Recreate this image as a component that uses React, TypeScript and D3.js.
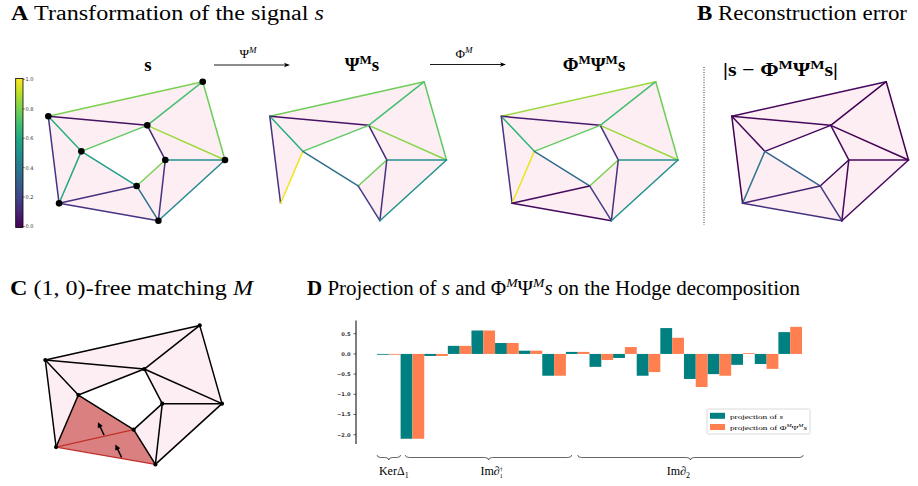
import React from 'react';
import * as d3 from 'd3';

// --- DATA ---
// node layout of the simplicial complex (graph units, N0..N8)
const nodeX = [0, 0.874, 0.56, 0.187, 0.662, 1, 0.5, 0.061, 0.623];
const nodeY = [0.249, 0, 0.314, 0.501, 0.563, 0.563, 0.75, 0.875, 1];

const edges: [number, number][] = [
  [0, 1], [0, 2], [0, 3], [0, 7], [1, 2], [1, 5], [2, 5], [2, 4], [2, 3],
  [3, 7], [3, 6], [4, 5], [4, 6], [4, 8], [6, 7], [6, 8], [7, 8], [5, 8],
];

const triangles: [number, number, number][] = [
  [0, 1, 2], [1, 2, 5], [2, 4, 5], [4, 5, 8], [4, 6, 8], [6, 7, 8], [3, 6, 7], [0, 3, 7], [0, 2, 3],
];

// edge signals (null = edge collapsed by the matching)
const signalS = [0.8, 0.05, 0.62, 0.15, 0.7, 0.78, 0.85, 0.12, 0.75, 0.6, 0.56, 0.5, 0.8, 0.15, 0.15, 0.37, 0.15, 0.47];
const signalPsi = [0.78, 0.05, 0.62, 0.15, 0.7, 0.75, 0.82, 0.12, 0.75, 0.98, 0.35, 0.5, 0.78, 0.15, null, 0.18, null, 0.5];
const signalPhiPsi = [0.85, 0.07, 0.65, 0.15, 0.7, 0.78, 0.85, 0.15, 0.76, 0.97, 0.35, 0.5, 0.8, 0.15, 0.03, 0.18, 0.03, 0.5];
const reconError = [0.02, 0.02, 0.02, 0.0, 0.0, 0.0, 0.0, 0.02, 0.02, 0.37, 0.32, 0.02, 0.02, 0.02, 0.1, 0.17, 0.14, 0.02];

// matching M: collapsed edges and triangles, arrows (edge, position along edge)
const matchedEdges = [14, 16];
const matchedTriangles = [5, 6];
const matchArrows = [{ edge: 14, t: 0.38 }, { edge: 16, t: 0.66 }];

// Hodge projections
const projS = [-0.02, -2.1, -0.05, 0.2, 0.58, 0.27, 0.08, -0.54, 0.05, -0.32, -0.1, -0.54, 0.64, -0.62, -0.5, -0.27, -0.25, 0.54];
const projPhiPsi = [-0.02, -2.1, -0.05, 0.2, 0.58, 0.27, 0.08, -0.54, 0.05, -0.15, 0.17, -0.45, 0.4, -0.82, -0.54, 0.02, -0.37, 0.67];
const yTicks = [0.5, 0, -0.5, -1, -1.5, -2];
const cbTicks = [0, 0.2, 0.4, 0.6, 0.8, 1];

// brace groups in bar-index units
const groups = [
  { key: 'ker', from: 0, to: 1 },
  { key: 'im1', from: 1.2, to: 8.25 },
  { key: 'im2', from: 8.5, to: 18.05 },
];

const TEAL = '#008080';
const CORAL = '#ff7f50';
const PINK = '#fdeef4';
const SERIF = '"Liberation Serif", "DejaVu Serif", serif';
const SANS = '"DejaVu Sans", sans-serif';

const viridis = d3.scaleSequential(d3.interpolateViridis).domain([0, 1]);

interface PanelProps {
  x0: number;
  y0: number;
  signal?: (number | null)[];
  nodes?: boolean;
  matching?: boolean;
}

function Complex({ x0, y0, signal, nodes, matching }: PanelProps) {
  const sx = d3.scaleLinear().domain([0, 1]).range([x0, x0 + 176.7]);
  const sy = d3.scaleLinear().domain([0, 1]).range([y0, y0 + 139]);
  const px = (i: number) => sx(nodeX[i]);
  const py = (i: number) => sy(nodeY[i]);
  const alive = (ti: number) => {
    if (!signal) return true;
    const [a, b, c] = triangles[ti];
    return [[a, b], [b, c], [a, c]].every(([u, v]) => {
      const ei = edges.findIndex(([p, q]) => (p === u && q === v) || (p === v && q === u));
      return ei < 0 || signal[ei] !== null;
    });
  };
  const tri = d3.line<number>().x(px).y(py);
  // arrow direction in panel C (up and slightly left)
  const ux = -0.43, uy = -0.9;
  return (
    <g>
      {triangles.map((t, i) =>
        alive(i) ? (
          <path
            key={'t' + i}
            d={tri([...t, t[0]]) || ''}
            fill={matching && matchedTriangles.includes(i) ? '#db8080' : PINK}
            stroke="none"
          />
        ) : null
      )}
      {edges.map(([a, b], i) => {
        if (signal && signal[i] === null) return null;
        const red = matching && matchedEdges.includes(i);
        const color = matching
          ? red ? '#c0302a' : '#000'
          : viridis(signal ? (signal[i] as number) : 0);
        return (
          <line key={'e' + i} x1={px(a)} y1={py(a)} x2={px(b)} y2={py(b)}
            stroke={color} strokeWidth={red ? 1.3 : 1.5} strokeLinecap="round" />
        );
      })}
      {nodes && nodeX.map((_, i) => (
        <circle key={'n' + i} cx={px(i)} cy={py(i)} r={matching ? 2.1 : 3.3} fill="#000" />
      ))}
      {matching && matchArrows.map(({ edge, t }, k) => {
        const [a, b] = edges[edge];
        const mx = px(a) + (px(b) - px(a)) * t;
        const my = py(a) + (py(b) - py(a)) * t - 1;
        const ex = mx + ux * 14.5, ey = my + uy * 14.5;
        return (
          <g key={'a' + k}>
            <line x1={mx} y1={my} x2={ex - ux * 3} y2={ey - uy * 3} stroke="#000" strokeWidth={1.5} />
            <path
              d={`M${ex},${ey} L${ex - ux * 5.5 - uy * 2.8},${ey - uy * 5.5 + ux * 2.8} L${ex - ux * 5.5 + uy * 2.8},${ey - uy * 5.5 - ux * 2.8} Z`}
              fill="#000"
            />
          </g>
        );
      })}
    </g>
  );
}

function Arrow({ x1, x2, y, label }: { x1: number; x2: number; y: number; label: string }) {
  return (
    <g>
      <line x1={x1} y1={y} x2={x2 - 4} y2={y} stroke="#000" strokeWidth={0.9} />
      <path d={`M${x2},${y} L${x2 - 6},${y - 2.2} L${x2 - 4.5},${y} L${x2 - 6},${y + 2.2} Z`} fill="#000" />
      <text x={(x1 + x2) / 2 - 4} y={y - 7} fontFamily={SERIF} fontSize={13} textAnchor="middle">
        {label}
        <tspan dy={-5} fontSize={9} fontStyle="italic">M</tspan>
      </text>
    </g>
  );
}

function Colorbar() {
  const y = d3.scaleLinear().domain([0, 1]).range([226.5, 79.5]);
  const stops = d3.range(0, 1.001, 0.1);
  return (
    <g>
      <defs>
        <linearGradient id="vir" x1="0" y1="1" x2="0" y2="0">
          {stops.map((s) => (
            <stop key={s} offset={`${s * 100}%`} stopColor={viridis(s)} />
          ))}
        </linearGradient>
      </defs>
      <rect x={15.7} y={78.5} width={7.3} height={149} fill="url(#vir)" stroke="#000" strokeWidth={0.8} />
      {cbTicks.map((t) => (
        <g key={t}>
          <line x1={23} x2={24.8} y1={y(t)} y2={y(t)} stroke="#000" strokeWidth={0.5} />
          <text x={25.6} y={y(t) + 1.8} fontFamily={SANS} fontSize={5} fill="#333">{t.toFixed(1)}</text>
        </g>
      ))}
    </g>
  );
}

function bracePath(x1: number, x2: number, y: number) {
  const m = (x1 + x2) / 2;
  const q = Math.min(4, (x2 - x1) / 6);
  return `M${x1},${y - 2.5} Q${x1},${y} ${x1 + q},${y} L${m - q},${y} Q${m},${y} ${m},${y + 2.5} Q${m},${y} ${m + q},${y} L${x2 - q},${y} Q${x2},${y} ${x2},${y - 2.5}`;
}

function HodgeBars() {
  const x = d3.scaleBand<number>().domain(d3.range(projS.length)).range([377, 802]).padding(0);
  const xi = d3.scaleLinear().domain([0, projS.length]).range([377, 802]);
  const y = d3.scaleLinear().domain([-2.23, 0.84]).range([444, 320]);
  const bw = x.bandwidth() / 2;
  const fmt = d3.format('.1f');
  const bar = (v: number) => ({ y: Math.min(y(v), y(0)), h: Math.abs(y(v) - y(0)) });
  return (
    <g>
      {projS.map((v, i) => {
        const b = bar(v);
        return <rect key={'s' + i} x={x(i)} y={b.y} width={bw} height={b.h} fill={TEAL} />;
      })}
      {projPhiPsi.map((v, i) => {
        const b = bar(v);
        return <rect key={'p' + i} x={(x(i) as number) + bw} y={b.y} width={bw} height={b.h} fill={CORAL} />;
      })}
      <line x1={356} x2={356} y1={320.5} y2={444} stroke="#000" strokeWidth={1} />
      {yTicks.map((t) => (
        <g key={t}>
          <line x1={353.5} x2={356} y1={y(t)} y2={y(t)} stroke="#000" strokeWidth={0.6} />
          <text x={350.5} y={y(t) + 1.8} textAnchor="end" fontFamily={SANS} fontSize={5.2} fontWeight="bold" fill="#333">
            {fmt(t)}
          </text>
        </g>
      ))}
      {/* legend */}
      <rect x={707} y={409} width={103} height={25} rx={1.5} fill="#fff" stroke="#d0d0d0" strokeWidth={0.8} />
      <rect x={710} y={412.8} width={15} height={6} fill={TEAL} />
      <rect x={710} y={424} width={15} height={6} fill={CORAL} />
      <text x={730} y={418.6} fontFamily={SERIF} fontSize={6.8} textLength={53} lengthAdjust="spacingAndGlyphs">
        projection of <tspan fontStyle="italic">s</tspan>
      </text>
      <text x={730} y={429.8} fontFamily={SERIF} fontSize={6.8} textLength={77} lengthAdjust="spacingAndGlyphs">
        projection of Φ<tspan dy={-2.5} fontSize={4.5} fontStyle="italic">M</tspan>
        <tspan dy={2.5}>Ψ</tspan><tspan dy={-2.5} fontSize={4.5} fontStyle="italic">M</tspan>
        <tspan dy={2.5} fontStyle="italic">s</tspan>
      </text>
      {/* decomposition braces */}
      {groups.map((g) => (
        <path key={g.key} d={bracePath(xi(g.from), xi(g.to), 457.5)} fill="none" stroke="#000" strokeWidth={0.6} />
      ))}
      <text x={xi(0.5) + 5} y={475} textAnchor="middle" fontFamily={SERIF} fontSize={12}>
        KerΔ<tspan dy={2.5} fontSize={8}>1</tspan>
      </text>
      <text x={xi((1.2 + 8.25) / 2) + 3} y={475} textAnchor="middle" fontFamily={SERIF} fontSize={12}>
        Im<tspan fontStyle="italic">∂</tspan><tspan dy={-4} fontSize={6}>†</tspan><tspan dx={-3} dy={6.5} fontSize={6}>1</tspan>
      </text>
      <text x={xi((8.5 + 18.05) / 2) - 12} y={475} textAnchor="middle" fontFamily={SERIF} fontSize={12}>
        Im<tspan fontStyle="italic">∂</tspan><tspan dy={2.5} fontSize={8}>2</tspan>
      </text>
    </g>
  );
}

export default function App() {
  return (
    <svg width={918} height={486} viewBox="0 0 918 486"
      style={{ position: 'fixed', left: 0, top: 0, background: '#fff' }}>
      {/* titles */}
      <text x={11} y={20} fontFamily={SERIF} fontSize={20} textLength={313} lengthAdjust="spacingAndGlyphs">
        <tspan fontWeight="bold">A</tspan> Transformation of the signal <tspan fontStyle="italic">s</tspan>
      </text>
      <text x={697} y={20} fontFamily={SERIF} fontSize={20} textLength={210} lengthAdjust="spacingAndGlyphs">
        <tspan fontWeight="bold">B</tspan> Reconstruction error
      </text>
      <text x={10} y={295} fontFamily={SERIF} fontSize={20} textLength={243} lengthAdjust="spacingAndGlyphs">
        <tspan fontWeight="bold">C</tspan>  (1, 0)-free matching <tspan fontStyle="italic">M</tspan>
      </text>
      <text x={307} y={295} fontFamily={SERIF} fontSize={20} textLength={493} lengthAdjust="spacingAndGlyphs">
        <tspan fontWeight="bold">D</tspan> Projection of <tspan fontStyle="italic">s</tspan> and Φ
        <tspan dy={-8} fontSize={13} fontStyle="italic">M</tspan>
        <tspan dy={8}>Ψ</tspan><tspan dy={-8} fontSize={13} fontStyle="italic">M</tspan>
        <tspan dy={8} fontStyle="italic">s</tspan> on the Hodge decomposition
      </text>

      {/* panel A subtitles and arrows */}
      <text x={148} y={71} textAnchor="middle" fontFamily={SERIF} fontSize={19} fontWeight="bold">s</text>
      <text x={362} y={71} textAnchor="middle" fontFamily={SERIF} fontSize={19} fontWeight="bold">
        Ψ<tspan dy={-7} fontSize={13}>M</tspan><tspan dy={7}>s</tspan>
      </text>
      <text x={594} y={71} textAnchor="middle" fontFamily={SERIF} fontSize={19} fontWeight="bold">
        Φ<tspan dy={-7} fontSize={13}>M</tspan><tspan dy={7}>Ψ</tspan><tspan dy={-7} fontSize={13}>M</tspan><tspan dy={7}>s</tspan>
      </text>
      <Arrow x1={214} x2={290} y={65} label="Ψ" />
      <Arrow x1={430} x2={506} y={64.5} label="Φ" />

      <Colorbar />
      <Complex x0={48.3} y0={81.7} signal={signalS} nodes />
      <Complex x0={269.8} y0={81.7} signal={signalPsi} />
      <Complex x0={501.3} y0={81.7} signal={signalPhiPsi} />

      {/* panel B */}
      <line x1={704} x2={704} y1={67} y2={225} stroke="#000" strokeWidth={0.8} strokeDasharray="1 1.5" />
      <text x={723} y={76} fontFamily={SERIF} fontSize={19} fontWeight="bold" textLength={115} lengthAdjust="spacingAndGlyphs">
        |s − Φ<tspan dy={-7} fontSize={13}>M</tspan><tspan dy={7}>Ψ</tspan><tspan dy={-7} fontSize={13}>M</tspan><tspan dy={7}>s|</tspan>
      </text>
      <Complex x0={731.8} y0={81.7} signal={reconError} />

      {/* panel C */}
      <Complex x0={45.3} y0={325.4} nodes matching />

      {/* panel D */}
      <HodgeBars />
    </svg>
  );
}
